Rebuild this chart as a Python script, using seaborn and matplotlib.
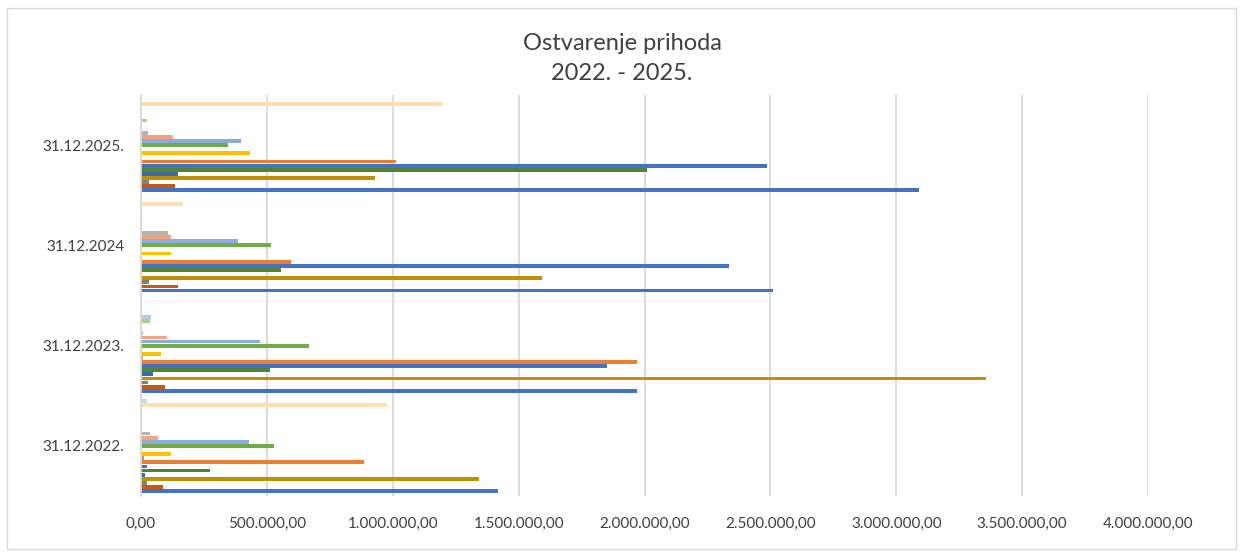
import pandas as pd
import matplotlib.pyplot as plt
import seaborn as sns
from matplotlib.ticker import FuncFormatter
from matplotlib.patches import Rectangle

# categories (top to bottom as shown)
dates = ['31.12.2025.', '31.12.2024', '31.12.2023.', '31.12.2022.']

# revenue per series, index 0 = bottom bar in each group
series = ['Prihod %d' % (i + 1) for i in range(23)]
val_2022 = [1420000, 89000, 25000, 1341000, 15000, 276000, 25000, 887000, 11000, 121000, 0,
            528000, 430000, 66000, 37000, 2000, 0, 4000, 1000, 0, 0, 977000, 23000]
val_2023 = [1970000, 96000, 29000, 3357000, 48000, 511000, 1852000, 1970000, 8000, 81000, 0,
            666000, 471000, 104000, 8000, 0, 1000, 37000, 41000, 0, 0, 0, 4000]
val_2024 = [2509000, 147000, 31000, 1592000, 0, 556000, 2336000, 596000, 0, 121000, 0,
            515000, 386000, 121000, 106000, 1000, 1000, 2000, 0, 0, 1000, 166000, 0]
val_2025 = [3089000, 135000, 33000, 931000, 147000, 2010000, 2485000, 1014000, 0, 433000, 0,
            345000, 397000, 129000, 29000, 0, 2000, 25000, 0, 0, 0, 1201000, 0]

colors = ['#4472C4', '#C55A11', '#7F7F7F', '#BF9000', '#3A6BAF', '#548235', '#4472C4',
          '#ED7D31', '#A5A5A5', '#FFC000', '#5B9BD5', '#70AD47', '#8FAADC', '#F4A47C',
          '#B4B4B4', '#FFD966', '#9DC3E6', '#A9D18E', '#B4C7E7', '#C5E0B4', '#F8CBAD',
          '#FFDFB0', '#BDD7EE']

rows = []
for d, vals in zip(['31.12.2022.', '31.12.2023.', '31.12.2024', '31.12.2025.'],
                   [val_2022, val_2023, val_2024, val_2025]):
    for s, v in zip(series, vals):
        rows.append({'Datum': d, 'Serija': s, 'Iznos': v})
data = pd.DataFrame(rows)

sns.set_style('white')
plt.rcParams['font.family'] = ['Lato', 'DejaVu Sans']

fig = plt.figure(figsize=(12.44, 5.57), dpi=100)
ax = fig.add_axes([141 / 1244, 1 - 496 / 557, (1148 - 141) / 1244, 401 / 557])

sns.barplot(data=data, x='Iznos', y='Datum', hue='Serija', order=dates,
            hue_order=series[::-1], palette=dict(zip(series, colors)),
            orient='h', width=0.942, gap=0.08, errorbar=None, legend=False,
            linewidth=0, saturation=1, ax=ax)

ax.set_xlim(0, 4000000)
ax.set_xticks(range(0, 4000001, 500000))
ax.xaxis.set_major_formatter(FuncFormatter(
    lambda v, p: '{:,.2f}'.format(v).replace(',', 'X').replace('.', ',').replace('X', '.')))
ax.grid(axis='x', color='#D9D9D9', linewidth=1.3)
ax.set_axisbelow(True)
for side in ['top', 'right', 'bottom']:
    ax.spines[side].set_visible(False)
ax.spines['left'].set_color('#D9D9D9')
ax.spines['left'].set_linewidth(1.3)
ax.tick_params(axis='both', length=0, labelsize=11, labelcolor='#404040')
ax.tick_params(axis='x', pad=15)
ax.tick_params(axis='y', pad=12)
ax.set_xlabel('')
ax.set_ylabel('')

fig.text(0.5, 1 - 43 / 557, 'Ostvarenje prihoda', ha='center', va='center',
         fontsize=17, color='#404040')
fig.text(0.5, 1 - 73 / 557, '2022. - 2025.', ha='center', va='center',
         fontsize=17, color='#404040')

fig.patches.append(Rectangle((7 / 1244, 8 / 557), 1229 / 1244, 541 / 557,
                             transform=fig.transFigure, fill=False,
                             edgecolor='#D9D9D9', linewidth=1))

plt.savefig('out.png', dpi=100)
